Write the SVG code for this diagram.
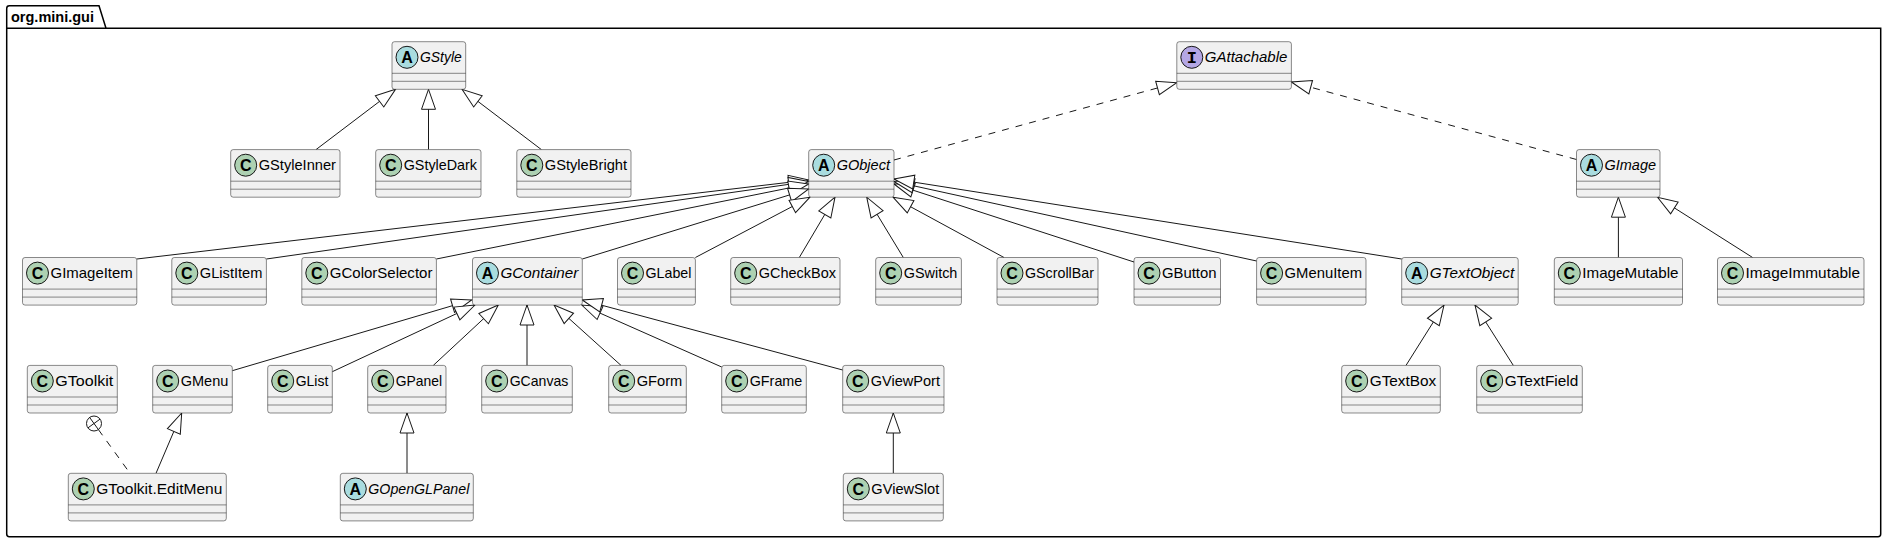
<svg xmlns="http://www.w3.org/2000/svg" width="1887" height="543" viewBox="0 0 1887 543">
<defs>
<style>
.box{fill:#F1F1F1;stroke:#181818;stroke-width:0.5}
.sep{stroke:#181818;stroke-width:0.5}
.nm{font-family:"Liberation Sans",Arial,sans-serif;font-size:15px;fill:#000000}
.it{font-style:italic}
.cC{fill:#ADD1B2;stroke:#181818;stroke-width:1}
.cA{fill:#A9DCDF;stroke:#181818;stroke-width:1}
.cI{fill:#B4A7E5;stroke:#181818;stroke-width:1}
.lt{font-family:"Liberation Sans",Arial,sans-serif;font-weight:bold;font-size:16px;text-anchor:middle;fill:#000000}
.ltI{font-family:"Liberation Mono","Courier New",monospace;font-weight:bold;font-size:17px;text-anchor:middle;fill:#000000}
.e{stroke:#181818;stroke-width:1;fill:none;marker-end:url(#tri)}
.d{stroke-dasharray:7,7}
.frame{fill:none;stroke:#000000;stroke-width:1.5}
.pk{font-family:"Liberation Sans",Arial,sans-serif;font-size:14px;font-weight:bold;fill:#000000}
</style>
<marker id="tri" markerUnits="userSpaceOnUse" viewBox="-1 -9 23 18" markerWidth="23" markerHeight="18" refX="20" refY="0" orient="auto">
<path d="M20,0 L0,-7 L0,7 Z" fill="#FFFFFF" stroke="#181818" stroke-width="1" stroke-dasharray="none"/>
</marker>
</defs>
<rect x="0" y="0" width="1887" height="543" fill="#FFFFFF"/>
<g id="package">
<path class="frame" d="M6.7,28.3 L6.7,534 Q6.7,536.7 9.4,536.7 L1878,536.7 Q1880.7,536.7 1880.7,534 L1880.7,28.3 L106,28.3 L99,5.7 L9.4,5.7 Q6.7,5.7 6.7,8.4 Z"/>
<line x1="6.7" y1="28.3" x2="106" y2="28.3" stroke="#000000" stroke-width="1.5"/>
<text class="pk" x="11" y="22" textLength="83" lengthAdjust="spacingAndGlyphs">org.mini.gui</text>
</g>

<g id="connectors">
<line class="e" x1="316" y1="149.6" x2="395.5" y2="89.3"/>
<line class="e" x1="428.5" y1="149.6" x2="428.5" y2="89.3"/>
<line class="e" x1="541.4" y1="149.6" x2="462" y2="89.3"/>
<line class="e d" x1="894" y1="160" x2="1176.8" y2="82.7"/>
<line class="e d" x1="1576.5" y1="159.5" x2="1291.4" y2="82"/>
<line class="e" x1="136.8" y1="259" x2="808.7" y2="180"/>
<line class="e" x1="266.4" y1="259" x2="808.7" y2="181.5"/>
<line class="e" x1="436.4" y1="259" x2="808.7" y2="184"/>
<line class="e" x1="582.3" y1="259" x2="808.7" y2="189"/>
<line class="e" x1="695.4" y1="257.5" x2="810" y2="197.2"/>
<line class="e" x1="799.3" y1="257.5" x2="835" y2="197.2"/>
<line class="e" x1="903.3" y1="257.5" x2="866.7" y2="197.2"/>
<line class="e" x1="1004" y1="257.5" x2="893" y2="197.2"/>
<line class="e" x1="1134" y1="262" x2="894" y2="184"/>
<line class="e" x1="1256.6" y1="261" x2="894" y2="181.5"/>
<line class="e" x1="1401.7" y1="259" x2="894" y2="179"/>
<line class="e" x1="232.3" y1="370.7" x2="471.7" y2="300"/>
<line class="e" x1="332.3" y1="371.7" x2="475" y2="305"/>
<line class="e" x1="433.3" y1="365.4" x2="498.3" y2="305"/>
<line class="e" x1="527" y1="365.4" x2="527" y2="305"/>
<line class="e" x1="621" y1="365.4" x2="554" y2="305"/>
<line class="e" x1="721.7" y1="367" x2="581.7" y2="305"/>
<line class="e" x1="842.7" y1="370" x2="582.3" y2="300"/>
<line class="e" x1="1618.4" y1="257.5" x2="1618.4" y2="197.2"/>
<line class="e" x1="1752.6" y1="257.5" x2="1657.5" y2="197.2"/>
<line class="e" x1="1406" y1="365.4" x2="1444" y2="305.1"/>
<line class="e" x1="1513.3" y1="365.4" x2="1475" y2="305.1"/>
<line class="e" x1="156" y1="473.3" x2="181.7" y2="413"/>
<line class="e" x1="407" y1="473.3" x2="407" y2="413"/>
<line class="e" x1="893.3" y1="473.3" x2="893.3" y2="413"/>
<line x1="98.4" y1="429.6" x2="130" y2="473.3" stroke="#181818" stroke-width="1" stroke-dasharray="7,7"/>
<circle cx="94" cy="423.5" r="7.5" fill="#FFFFFF" stroke="#181818" stroke-width="1"/>
<line x1="89.6" y1="417.4" x2="98.4" y2="429.6" stroke="#181818" stroke-width="1"/>
<line x1="87.9" y1="427.9" x2="100.1" y2="419.1" stroke="#181818" stroke-width="1"/>
</g>

<g id="GStyle"><rect class="box" x="392" y="41.7" width="73.7" height="47.6" rx="2.5"/><line class="sep" x1="392" y1="73.3" x2="465.7" y2="73.3"/><line class="sep" x1="392" y1="81.3" x2="465.7" y2="81.3"/><circle class="cA" cx="407" cy="57.3" r="11"/><text class="lt" x="407" y="63.1">A</text><text class="nm it" x="420" y="62" textLength="41.7" lengthAdjust="spacingAndGlyphs">GStyle</text></g>
<g id="GAttachable"><rect class="box" x="1176.8" y="41.7" width="114.6" height="47.6" rx="2.5"/><line class="sep" x1="1176.8" y1="73.3" x2="1291.4" y2="73.3"/><line class="sep" x1="1176.8" y1="81.3" x2="1291.4" y2="81.3"/><circle class="cI" cx="1191.8" cy="57.3" r="11"/><text class="ltI" x="1191.8" y="62.8">I</text><text class="nm it" x="1204.8" y="62" textLength="82.6" lengthAdjust="spacingAndGlyphs">GAttachable</text></g>

<g id="GStyleInner"><rect class="box" x="230.7" y="149.6" width="109.3" height="47.6" rx="2.5"/><line class="sep" x1="230.7" y1="181.2" x2="340" y2="181.2"/><line class="sep" x1="230.7" y1="189.2" x2="340" y2="189.2"/><circle class="cC" cx="245.7" cy="165.2" r="11"/><text class="lt" x="245.7" y="171">C</text><text class="nm" x="258.7" y="169.9" textLength="77.3" lengthAdjust="spacingAndGlyphs">GStyleInner</text></g>
<g id="GStyleDark"><rect class="box" x="375.7" y="149.6" width="105.3" height="47.6" rx="2.5"/><line class="sep" x1="375.7" y1="181.2" x2="481" y2="181.2"/><line class="sep" x1="375.7" y1="189.2" x2="481" y2="189.2"/><circle class="cC" cx="390.7" cy="165.2" r="11"/><text class="lt" x="390.7" y="171">C</text><text class="nm" x="403.7" y="169.9" textLength="73.3" lengthAdjust="spacingAndGlyphs">GStyleDark</text></g>
<g id="GStyleBright"><rect class="box" x="516.8" y="149.6" width="114.2" height="47.6" rx="2.5"/><line class="sep" x1="516.8" y1="181.2" x2="631" y2="181.2"/><line class="sep" x1="516.8" y1="189.2" x2="631" y2="189.2"/><circle class="cC" cx="531.8" cy="165.2" r="11"/><text class="lt" x="531.8" y="171">C</text><text class="nm" x="544.8" y="169.9" textLength="82.2" lengthAdjust="spacingAndGlyphs">GStyleBright</text></g>
<g id="GObject"><rect class="box" x="808.7" y="149.6" width="85.3" height="47.6" rx="2.5"/><line class="sep" x1="808.7" y1="181.2" x2="894" y2="181.2"/><line class="sep" x1="808.7" y1="189.2" x2="894" y2="189.2"/><circle class="cA" cx="823.7" cy="165.2" r="11"/><text class="lt" x="823.7" y="171">A</text><text class="nm it" x="836.7" y="169.9" textLength="53.3" lengthAdjust="spacingAndGlyphs">GObject</text></g>
<g id="GImage"><rect class="box" x="1576.5" y="149.6" width="83.5" height="47.6" rx="2.5"/><line class="sep" x1="1576.5" y1="181.2" x2="1660" y2="181.2"/><line class="sep" x1="1576.5" y1="189.2" x2="1660" y2="189.2"/><circle class="cA" cx="1591.5" cy="165.2" r="11"/><text class="lt" x="1591.5" y="171">A</text><text class="nm it" x="1604.5" y="169.9" textLength="51.5" lengthAdjust="spacingAndGlyphs">GImage</text></g>

<g id="GImageItem"><rect class="box" x="22.5" y="257.5" width="114.3" height="47.6" rx="2.5"/><line class="sep" x1="22.5" y1="289.1" x2="136.8" y2="289.1"/><line class="sep" x1="22.5" y1="297.1" x2="136.8" y2="297.1"/><circle class="cC" cx="37.5" cy="273.1" r="11"/><text class="lt" x="37.5" y="278.9">C</text><text class="nm" x="50.5" y="277.8" textLength="82.3" lengthAdjust="spacingAndGlyphs">GImageItem</text></g>
<g id="GListItem"><rect class="box" x="171.8" y="257.5" width="94.6" height="47.6" rx="2.5"/><line class="sep" x1="171.8" y1="289.1" x2="266.4" y2="289.1"/><line class="sep" x1="171.8" y1="297.1" x2="266.4" y2="297.1"/><circle class="cC" cx="186.8" cy="273.1" r="11"/><text class="lt" x="186.8" y="278.9">C</text><text class="nm" x="199.8" y="277.8" textLength="62.6" lengthAdjust="spacingAndGlyphs">GListItem</text></g>
<g id="GColorSelector"><rect class="box" x="301.8" y="257.5" width="134.6" height="47.6" rx="2.5"/><line class="sep" x1="301.8" y1="289.1" x2="436.4" y2="289.1"/><line class="sep" x1="301.8" y1="297.1" x2="436.4" y2="297.1"/><circle class="cC" cx="316.8" cy="273.1" r="11"/><text class="lt" x="316.8" y="278.9">C</text><text class="nm" x="329.8" y="277.8" textLength="102.6" lengthAdjust="spacingAndGlyphs">GColorSelector</text></g>
<g id="GContainer"><rect class="box" x="472.5" y="257.5" width="109.8" height="47.6" rx="2.5"/><line class="sep" x1="472.5" y1="289.1" x2="582.3" y2="289.1"/><line class="sep" x1="472.5" y1="297.1" x2="582.3" y2="297.1"/><circle class="cA" cx="487.5" cy="273.1" r="11"/><text class="lt" x="487.5" y="278.9">A</text><text class="nm it" x="500.5" y="277.8" textLength="77.8" lengthAdjust="spacingAndGlyphs">GContainer</text></g>
<g id="GLabel"><rect class="box" x="617.5" y="257.5" width="77.9" height="47.6" rx="2.5"/><line class="sep" x1="617.5" y1="289.1" x2="695.4" y2="289.1"/><line class="sep" x1="617.5" y1="297.1" x2="695.4" y2="297.1"/><circle class="cC" cx="632.5" cy="273.1" r="11"/><text class="lt" x="632.5" y="278.9">C</text><text class="nm" x="645.5" y="277.8" textLength="45.9" lengthAdjust="spacingAndGlyphs">GLabel</text></g>
<g id="GCheckBox"><rect class="box" x="730.7" y="257.5" width="109.3" height="47.6" rx="2.5"/><line class="sep" x1="730.7" y1="289.1" x2="840" y2="289.1"/><line class="sep" x1="730.7" y1="297.1" x2="840" y2="297.1"/><circle class="cC" cx="745.7" cy="273.1" r="11"/><text class="lt" x="745.7" y="278.9">C</text><text class="nm" x="758.7" y="277.8" textLength="77.3" lengthAdjust="spacingAndGlyphs">GCheckBox</text></g>
<g id="GSwitch"><rect class="box" x="875.7" y="257.5" width="85.7" height="47.6" rx="2.5"/><line class="sep" x1="875.7" y1="289.1" x2="961.4" y2="289.1"/><line class="sep" x1="875.7" y1="297.1" x2="961.4" y2="297.1"/><circle class="cC" cx="890.7" cy="273.1" r="11"/><text class="lt" x="890.7" y="278.9">C</text><text class="nm" x="903.7" y="277.8" textLength="53.7" lengthAdjust="spacingAndGlyphs">GSwitch</text></g>
<g id="GScrollBar"><rect class="box" x="997" y="257.5" width="101" height="47.6" rx="2.5"/><line class="sep" x1="997" y1="289.1" x2="1098" y2="289.1"/><line class="sep" x1="997" y1="297.1" x2="1098" y2="297.1"/><circle class="cC" cx="1012" cy="273.1" r="11"/><text class="lt" x="1012" y="278.9">C</text><text class="nm" x="1025" y="277.8" textLength="69" lengthAdjust="spacingAndGlyphs">GScrollBar</text></g>
<g id="GButton"><rect class="box" x="1134" y="257.5" width="86.5" height="47.6" rx="2.5"/><line class="sep" x1="1134" y1="289.1" x2="1220.5" y2="289.1"/><line class="sep" x1="1134" y1="297.1" x2="1220.5" y2="297.1"/><circle class="cC" cx="1149" cy="273.1" r="11"/><text class="lt" x="1149" y="278.9">C</text><text class="nm" x="1162" y="277.8" textLength="54.5" lengthAdjust="spacingAndGlyphs">GButton</text></g>
<g id="GMenuItem"><rect class="box" x="1256.6" y="257.5" width="109.4" height="47.6" rx="2.5"/><line class="sep" x1="1256.6" y1="289.1" x2="1366" y2="289.1"/><line class="sep" x1="1256.6" y1="297.1" x2="1366" y2="297.1"/><circle class="cC" cx="1271.6" cy="273.1" r="11"/><text class="lt" x="1271.6" y="278.9">C</text><text class="nm" x="1284.6" y="277.8" textLength="77.4" lengthAdjust="spacingAndGlyphs">GMenuItem</text></g>
<g id="GTextObject"><rect class="box" x="1401.7" y="257.5" width="116.5" height="47.6" rx="2.5"/><line class="sep" x1="1401.7" y1="289.1" x2="1518.2" y2="289.1"/><line class="sep" x1="1401.7" y1="297.1" x2="1518.2" y2="297.1"/><circle class="cA" cx="1416.7" cy="273.1" r="11"/><text class="lt" x="1416.7" y="278.9">A</text><text class="nm it" x="1429.7" y="277.8" textLength="84.5" lengthAdjust="spacingAndGlyphs">GTextObject</text></g>
<g id="ImageMutable"><rect class="box" x="1554.3" y="257.5" width="128.2" height="47.6" rx="2.5"/><line class="sep" x1="1554.3" y1="289.1" x2="1682.5" y2="289.1"/><line class="sep" x1="1554.3" y1="297.1" x2="1682.5" y2="297.1"/><circle class="cC" cx="1569.3" cy="273.1" r="11"/><text class="lt" x="1569.3" y="278.9">C</text><text class="nm" x="1582.3" y="277.8" textLength="96.2" lengthAdjust="spacingAndGlyphs">ImageMutable</text></g>
<g id="ImageImmutable"><rect class="box" x="1717.5" y="257.5" width="146.5" height="47.6" rx="2.5"/><line class="sep" x1="1717.5" y1="289.1" x2="1864" y2="289.1"/><line class="sep" x1="1717.5" y1="297.1" x2="1864" y2="297.1"/><circle class="cC" cx="1732.5" cy="273.1" r="11"/><text class="lt" x="1732.5" y="278.9">C</text><text class="nm" x="1745.5" y="277.8" textLength="114.5" lengthAdjust="spacingAndGlyphs">ImageImmutable</text></g>

<g id="GToolkit"><rect class="box" x="27.3" y="365.4" width="90" height="47.6" rx="2.5"/><line class="sep" x1="27.3" y1="397" x2="117.3" y2="397"/><line class="sep" x1="27.3" y1="405" x2="117.3" y2="405"/><circle class="cC" cx="42.3" cy="381" r="11"/><text class="lt" x="42.3" y="386.8">C</text><text class="nm" x="55.3" y="385.7" textLength="58" lengthAdjust="spacingAndGlyphs">GToolkit</text></g>
<g id="GMenu"><rect class="box" x="152.7" y="365.4" width="79.6" height="47.6" rx="2.5"/><line class="sep" x1="152.7" y1="397" x2="232.3" y2="397"/><line class="sep" x1="152.7" y1="405" x2="232.3" y2="405"/><circle class="cC" cx="167.7" cy="381" r="11"/><text class="lt" x="167.7" y="386.8">C</text><text class="nm" x="180.7" y="385.7" textLength="47.6" lengthAdjust="spacingAndGlyphs">GMenu</text></g>
<g id="GList"><rect class="box" x="267.7" y="365.4" width="64.6" height="47.6" rx="2.5"/><line class="sep" x1="267.7" y1="397" x2="332.3" y2="397"/><line class="sep" x1="267.7" y1="405" x2="332.3" y2="405"/><circle class="cC" cx="282.7" cy="381" r="11"/><text class="lt" x="282.7" y="386.8">C</text><text class="nm" x="295.7" y="385.7" textLength="32.6" lengthAdjust="spacingAndGlyphs">GList</text></g>
<g id="GPanel"><rect class="box" x="367.7" y="365.4" width="78.3" height="47.6" rx="2.5"/><line class="sep" x1="367.7" y1="397" x2="446" y2="397"/><line class="sep" x1="367.7" y1="405" x2="446" y2="405"/><circle class="cC" cx="382.7" cy="381" r="11"/><text class="lt" x="382.7" y="386.8">C</text><text class="nm" x="395.7" y="385.7" textLength="46.3" lengthAdjust="spacingAndGlyphs">GPanel</text></g>
<g id="GCanvas"><rect class="box" x="481.7" y="365.4" width="90.6" height="47.6" rx="2.5"/><line class="sep" x1="481.7" y1="397" x2="572.3" y2="397"/><line class="sep" x1="481.7" y1="405" x2="572.3" y2="405"/><circle class="cC" cx="496.7" cy="381" r="11"/><text class="lt" x="496.7" y="386.8">C</text><text class="nm" x="509.7" y="385.7" textLength="58.6" lengthAdjust="spacingAndGlyphs">GCanvas</text></g>
<g id="GForm"><rect class="box" x="608.7" y="365.4" width="77.6" height="47.6" rx="2.5"/><line class="sep" x1="608.7" y1="397" x2="686.3" y2="397"/><line class="sep" x1="608.7" y1="405" x2="686.3" y2="405"/><circle class="cC" cx="623.7" cy="381" r="11"/><text class="lt" x="623.7" y="386.8">C</text><text class="nm" x="636.7" y="385.7" textLength="45.6" lengthAdjust="spacingAndGlyphs">GForm</text></g>
<g id="GFrame"><rect class="box" x="721.7" y="365.4" width="84.6" height="47.6" rx="2.5"/><line class="sep" x1="721.7" y1="397" x2="806.3" y2="397"/><line class="sep" x1="721.7" y1="405" x2="806.3" y2="405"/><circle class="cC" cx="736.7" cy="381" r="11"/><text class="lt" x="736.7" y="386.8">C</text><text class="nm" x="749.7" y="385.7" textLength="52.6" lengthAdjust="spacingAndGlyphs">GFrame</text></g>
<g id="GViewPort"><rect class="box" x="842.7" y="365.4" width="101.3" height="47.6" rx="2.5"/><line class="sep" x1="842.7" y1="397" x2="944" y2="397"/><line class="sep" x1="842.7" y1="405" x2="944" y2="405"/><circle class="cC" cx="857.7" cy="381" r="11"/><text class="lt" x="857.7" y="386.8">C</text><text class="nm" x="870.7" y="385.7" textLength="69.3" lengthAdjust="spacingAndGlyphs">GViewPort</text></g>
<g id="GTextBox"><rect class="box" x="1341.7" y="365.4" width="98.6" height="47.6" rx="2.5"/><line class="sep" x1="1341.7" y1="397" x2="1440.3" y2="397"/><line class="sep" x1="1341.7" y1="405" x2="1440.3" y2="405"/><circle class="cC" cx="1356.7" cy="381" r="11"/><text class="lt" x="1356.7" y="386.8">C</text><text class="nm" x="1369.7" y="385.7" textLength="66.6" lengthAdjust="spacingAndGlyphs">GTextBox</text></g>
<g id="GTextField"><rect class="box" x="1476.7" y="365.4" width="105.6" height="47.6" rx="2.5"/><line class="sep" x1="1476.7" y1="397" x2="1582.3" y2="397"/><line class="sep" x1="1476.7" y1="405" x2="1582.3" y2="405"/><circle class="cC" cx="1491.7" cy="381" r="11"/><text class="lt" x="1491.7" y="386.8">C</text><text class="nm" x="1504.7" y="385.7" textLength="73.6" lengthAdjust="spacingAndGlyphs">GTextField</text></g>

<g id="GToolkit.EditMenu"><rect class="box" x="68.3" y="473.3" width="158" height="47.6" rx="2.5"/><line class="sep" x1="68.3" y1="504.9" x2="226.3" y2="504.9"/><line class="sep" x1="68.3" y1="512.9" x2="226.3" y2="512.9"/><circle class="cC" cx="83.3" cy="488.9" r="11"/><text class="lt" x="83.3" y="494.7">C</text><text class="nm" x="96.3" y="493.6" textLength="126" lengthAdjust="spacingAndGlyphs">GToolkit.EditMenu</text></g>
<g id="GOpenGLPanel"><rect class="box" x="340.3" y="473.3" width="133" height="47.6" rx="2.5"/><line class="sep" x1="340.3" y1="504.9" x2="473.3" y2="504.9"/><line class="sep" x1="340.3" y1="512.9" x2="473.3" y2="512.9"/><circle class="cA" cx="355.3" cy="488.9" r="11"/><text class="lt" x="355.3" y="494.7">A</text><text class="nm it" x="368.3" y="493.6" textLength="101" lengthAdjust="spacingAndGlyphs">GOpenGLPanel</text></g>
<g id="GViewSlot"><rect class="box" x="843.3" y="473.3" width="100" height="47.6" rx="2.5"/><line class="sep" x1="843.3" y1="504.9" x2="943.3" y2="504.9"/><line class="sep" x1="843.3" y1="512.9" x2="943.3" y2="512.9"/><circle class="cC" cx="858.3" cy="488.9" r="11"/><text class="lt" x="858.3" y="494.7">C</text><text class="nm" x="871.3" y="493.6" textLength="68" lengthAdjust="spacingAndGlyphs">GViewSlot</text></g>
</svg>
